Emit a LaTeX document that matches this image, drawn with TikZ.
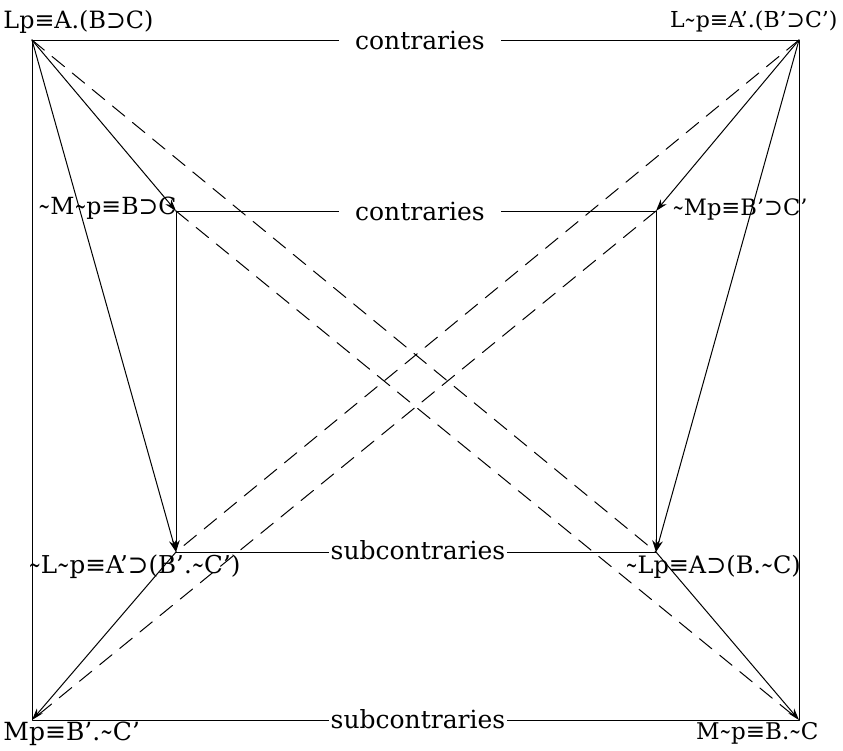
\documentclass[tikz,border=0pt]{standalone}
\usepackage{fontspec}
\setmainfont{DejaVu Serif}
\usetikzlibrary{arrows.meta}
\newcommand{\til}{\scalebox{0.6}[1]{\textasciitilde}}
\tikzset{
  lbl/.style={font=\fontsize{#1}{#1}\selectfont, inner sep=0pt},
  lbl/.default=12.5,
  rel/.style={lbl, fill=white, inner xsep=8pt, inner ysep=1pt},
  subrel/.style={lbl, fill=white, inner xsep=1pt, inner ysep=1pt},
  contra/.style={dash pattern=on 8pt off 5pt}
}
\begin{document}
\begin{tikzpicture}[x=0.5pt,y=-0.5pt,>={Stealth[length=6pt,width=3.8pt]}, line join=round, line cap=round, line width=0.5pt]
		\useasboundingbox (0,0) rectangle (843,751);
		% outer corners
		\coordinate (LP) at (32,40);
		\coordinate (LNP) at (799,40);
		\coordinate (MP) at (32,720);
		\coordinate (MNP) at (799,720);
		% inner corners
		\coordinate (NMNP) at (176,211);
		\coordinate (NMP) at (656,211);
		\coordinate (NLNP) at (176,552);
		\coordinate (NLP) at (656,552);
		% squares
		\draw (LP)--(LNP)--(MNP)--(MP)--cycle;
		\draw (NMNP)--(NMP) (NLNP)--(NLP);
		% implications
		\draw[->] (LP)--(NMNP);
		\draw[->] (LP)--(NLNP);
		\draw[->] (LNP)--(NMP);
		\draw[->] (LNP)--(NLP);
		\draw[->] (NMNP)--(NLNP);
		\draw[->] (NMP)--(NLP);
		\draw[->] (NLNP)--(MP);
		\draw[->] (NLP)--(MNP);
		% contradictories
		\draw[contra] (LP)--(NLP) (NMNP)--(MNP) (LNP)--(NLNP) (NMP)--(MP);
		% relation names
		\node[rel] (c1) at (420,40) {contraries};
		\node[rel] (c2) at (420,211) {contraries};
		\node[subrel] (s1) at (418,550) {subcontraries};
		\node[subrel] (s2) at (418,719) {subcontraries};
		% propositions
		\node[lbl=11.9,anchor=base west] (lp) at (3,28) {Lp≡A.(B⊃C)};
		\node[lbl=11,anchor=base east] (lnp) at (838,27) {L\til p≡A'.(B'⊃C')};
		\node[lbl=11.8,anchor=base west] (nmnp) at (38,214) {\til M\til p≡B⊃C};
		\node[lbl=11.3,anchor=base west] (nmp) at (672,215) {\til Mp≡B'⊃C'};
		\node[lbl=12.3,anchor=base west] (nlnp) at (28,573) {\til L\til p≡A'⊃(B'.\til C')};
		\node[lbl=12,anchor=base west] (nlp) at (625,573) {\til Lp≡A⊃(B.\til C)};
		\node[lbl=12.5,anchor=base west] (mp) at (3,740) {Mp≡B'.\til C'};
		\node[lbl=11.5,anchor=base east] (mnp) at (819,739) {M\til p≡B.\til C};
		\end{tikzpicture}
\end{document}
